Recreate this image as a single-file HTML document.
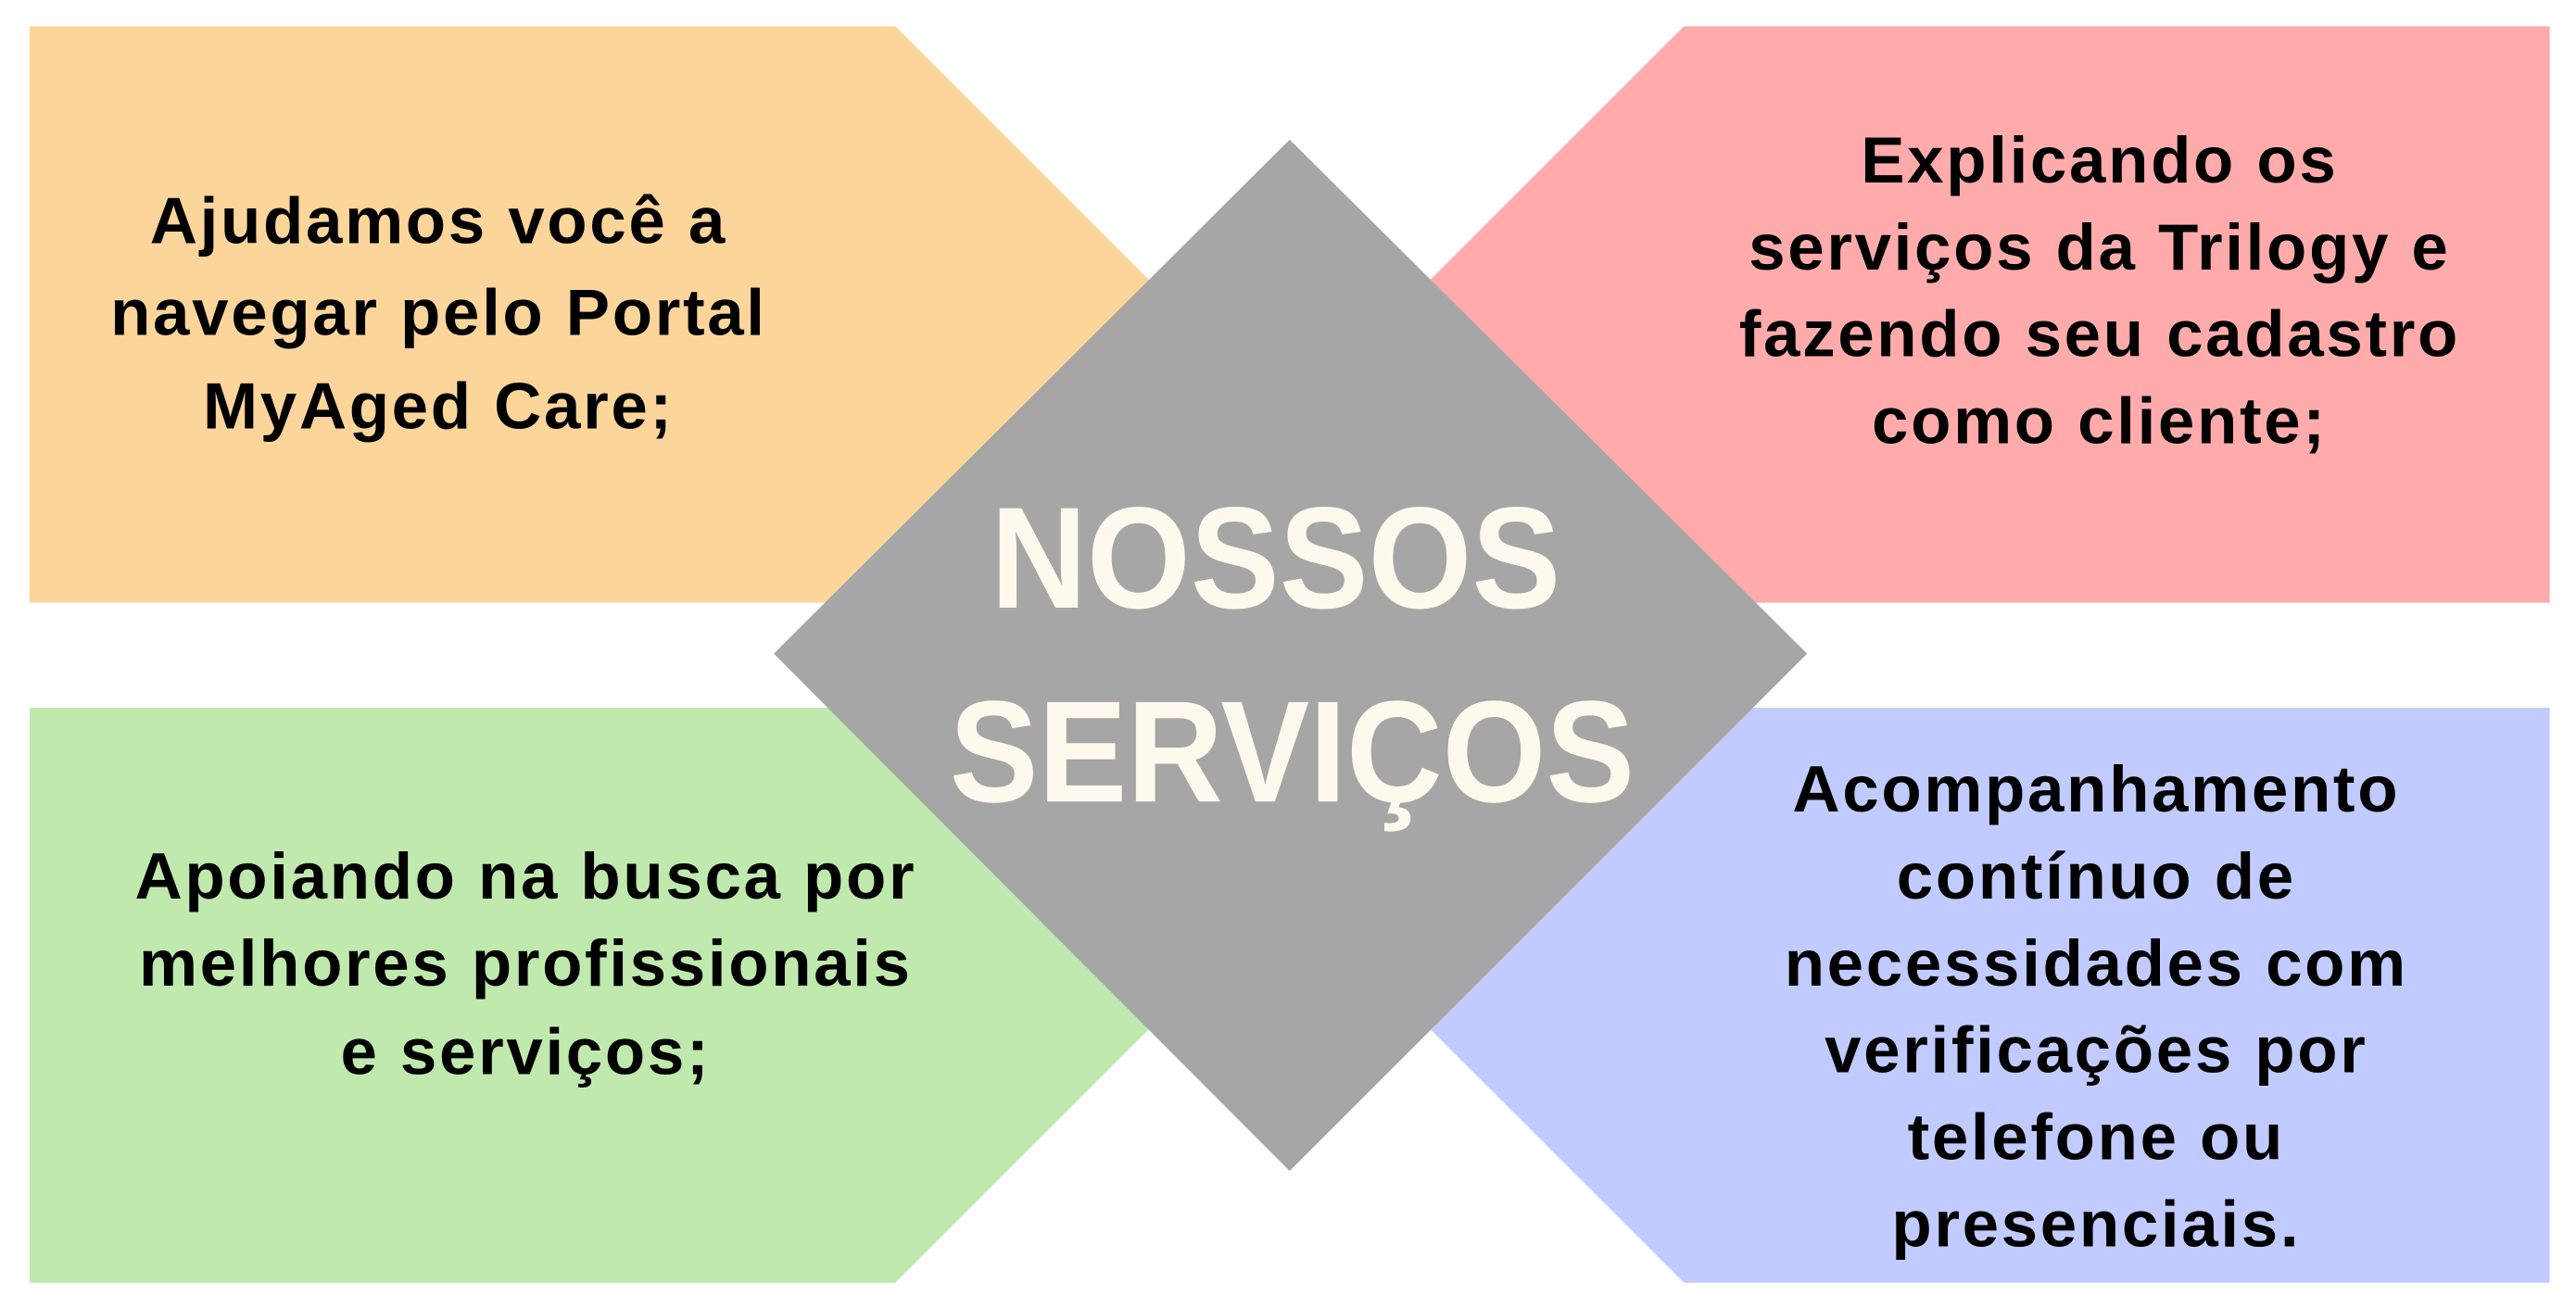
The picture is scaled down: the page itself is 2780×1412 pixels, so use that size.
<!DOCTYPE html>
<html><head><meta charset="utf-8"><style>
html,body{margin:0;padding:0;background:#fff;}
svg{display:block;}
text{font-family:"Liberation Sans",sans-serif;font-weight:bold;}
</style></head><body>
<svg width="2780" height="1412" viewBox="0 0 1568 796.4" preserveAspectRatio="none" xmlns="http://www.w3.org/2000/svg">
<rect width="1568" height="796.4" fill="#ffffff"/>
<polygon points="18,16 545,16 896,367 18,367" fill="#fcd59b"/>
<polygon points="1025,16 1552,16 1552,367 674,367" fill="#ffabab"/>
<polygon points="18,431 895,431 545,781 18,781" fill="#c0e9ae"/>
<polygon points="675,431 1552,431 1552,781 1025,781" fill="#c1cbff"/>
<polygon points="785,85 1100,398 785,713 471,398" fill="#a6a6a6"/>
<g font-size="40" fill="#000" text-anchor="middle" letter-spacing="1.5">
<text x="267" y="148">Ajudamos você a</text>
<text x="267" y="204">navegar pelo Portal</text>
<text x="267" y="261">MyAged Care;</text>
<text x="1278" y="111">Explicando os</text>
<text x="1278" y="164">serviços da Trilogy e</text>
<text x="1278" y="217">fazendo seu cadastro</text>
<text x="1278" y="270">como cliente;</text>
<text x="320" y="547">Apoiando na busca por</text>
<text x="320" y="600">melhores profissionais</text>
<text x="320" y="654">e serviços;</text>
<text x="1276" y="494">Acompanhamento</text>
<text x="1276" y="547">contínuo de</text>
<text x="1276" y="600">necessidades com</text>
<text x="1276" y="653">verificações por</text>
<text x="1276" y="706">telefone ou</text>
<text x="1276" y="759">presenciais.</text>
</g>
<g fill="#fdf9ed" font-size="88">
<text x="603" y="370" textLength="347" lengthAdjust="spacingAndGlyphs">NOSSOS</text>
<text x="578" y="488" textLength="417" lengthAdjust="spacingAndGlyphs">SERVIÇOS</text>
</g>
</svg>
</body></html>
